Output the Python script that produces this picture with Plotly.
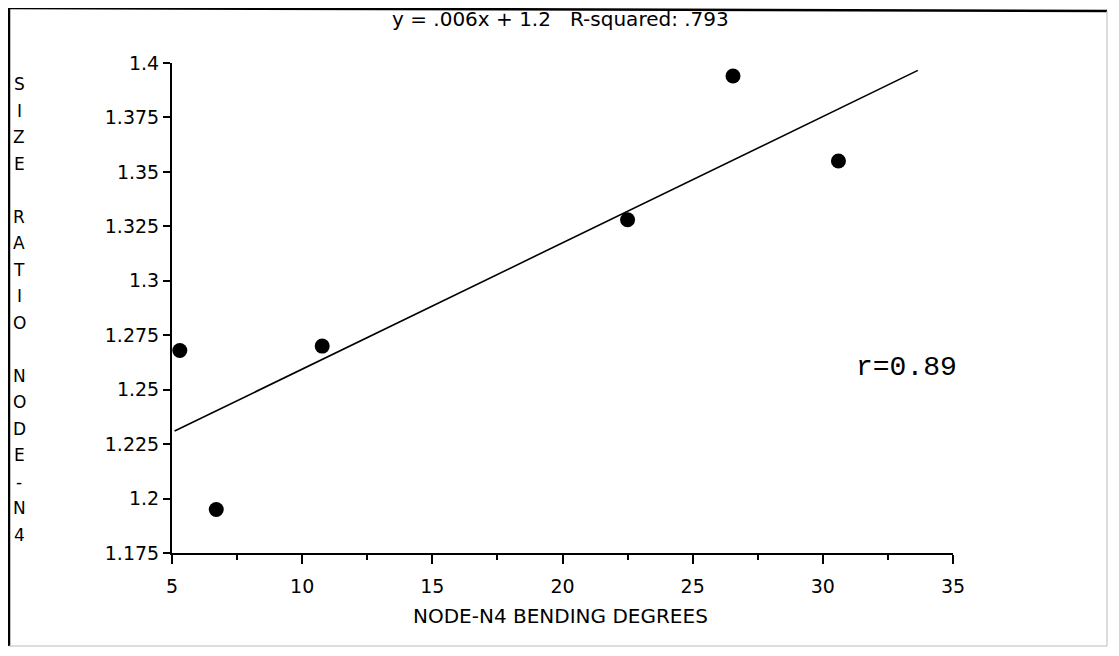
import plotly.graph_objects as go

# ---- data ----
bend_deg = [5.3, 6.7, 10.77, 22.5, 26.55, 30.6]
size_ratio = [1.268, 1.195, 1.270, 1.328, 1.394, 1.355]
fit_x = [5.1, 33.65]
fit_y = [1.231, 1.3966]

x_ticks = [5, 10, 15, 20, 25, 30, 35]
y_ticks = [1.175, 1.2, 1.225, 1.25, 1.275, 1.3, 1.325, 1.35, 1.375, 1.4]
y_tick_labels = ["1.175", "1.2", "1.225", "1.25", "1.275", "1.3", "1.325", "1.35", "1.375", "1.4"]

title_text = "y = .006x + 1.2\u00a0\u00a0\u00a0R-squared: .793"
x_title = "NODE-N4 BENDING DEGREES"
y_title_rows = ["S", "I", "Z", "E", "", "R", "A", "T", "I", "O", "", "N", "O", "D", "E", "-", "N", "4"]
r_text = "r=0.89"

# page body has an 8px margin; compensate so the picture lines up with the window
OFF = 8
W, H = 1119 - OFF, 656 - OFF
PLOT_LEFT, PLOT_RIGHT, PLOT_TOP, PLOT_BOTTOM = 172, 953, 63, 553  # window pixels
L = PLOT_LEFT - OFF
T = PLOT_TOP - OFF
R = W - (PLOT_RIGHT - OFF)
B = H - (PLOT_BOTTOM - OFF)
PW, PH = PLOT_RIGHT - PLOT_LEFT, PLOT_BOTTOM - PLOT_TOP


def px_to_paper_x(px):
    return (px - PLOT_LEFT) / PW


def px_to_paper_y(py):
    return (PLOT_BOTTOM - py) / PH


FONT = "DejaVu Sans"

fig = go.Figure()
fig.add_trace(go.Scatter(x=fit_x, y=fit_y, mode="lines",
                         line=dict(color="black", width=1.6), showlegend=False))
fig.add_trace(go.Scatter(x=bend_deg, y=size_ratio, mode="markers",
                         marker=dict(color="black", size=15), showlegend=False))

annotations = []
# stacked vertical y-axis title
for i, ch in enumerate(y_title_rows):
    if not ch:
        continue
    annotations.append(dict(text=ch, xref="paper", yref="paper",
                            x=px_to_paper_x(19), y=px_to_paper_y(84 + 26.5 * i),
                            xanchor="center", yanchor="middle", showarrow=False,
                            font=dict(family=FONT, size=17, color="black")))
# x-axis title
annotations.append(dict(text=x_title, xref="paper", yref="paper",
                        x=px_to_paper_x(560), y=px_to_paper_y(616),
                        xanchor="center", yanchor="middle", showarrow=False,
                        font=dict(family=FONT, size=20, color="black")))
# r annotation
annotations.append(dict(text=r_text, xref="paper", yref="paper",
                        x=px_to_paper_x(906), y=px_to_paper_y(367),
                        xanchor="center", yanchor="middle", showarrow=False,
                        font=dict(family="Liberation Mono", size=28, color="black")))
# title
annotations.append(dict(text=title_text, xref="paper", yref="paper",
                        x=px_to_paper_x(560), y=px_to_paper_y(19),
                        xanchor="center", yanchor="middle", showarrow=False,
                        font=dict(family=FONT, size=20, color="black")))

shapes = [
    # frame: top, left (dark), right, bottom (light)
    dict(type="line", xref="paper", yref="paper", x0=px_to_paper_x(9), x1=px_to_paper_x(1107),
         y0=px_to_paper_y(8), y1=px_to_paper_y(11), line=dict(color="black", width=2.5)),
    dict(type="line", xref="paper", yref="paper", x0=px_to_paper_x(9), x1=px_to_paper_x(9),
         y0=px_to_paper_y(8), y1=px_to_paper_y(646), line=dict(color="black", width=2.5)),
    dict(type="line", xref="paper", yref="paper", x0=px_to_paper_x(1107), x1=px_to_paper_x(1107),
         y0=px_to_paper_y(11), y1=px_to_paper_y(646), line=dict(color="#bbbbbb", width=1)),
    dict(type="line", xref="paper", yref="paper", x0=px_to_paper_x(9), x1=px_to_paper_x(1107),
         y0=px_to_paper_y(646), y1=px_to_paper_y(646), line=dict(color="#bbbbbb", width=1)),
]

fig.update_layout(
    width=W, height=H,
    margin=dict(l=L, r=R, t=T, b=B, pad=0),
    paper_bgcolor="white", plot_bgcolor="white",
    annotations=annotations, shapes=shapes,
    showlegend=False,
)
fig.update_xaxes(range=[5, 35], tickvals=x_ticks, ticks="outside", ticklen=9, tickwidth=2,
                 tickcolor="black", showline=True, linecolor="black", linewidth=2,
                 showgrid=False, zeroline=False, ticklabelstandoff=6,
                 tickfont=dict(family=FONT, size=19, color="black"),
                 minor=dict(dtick=2.5, tick0=5, ticks="outside", ticklen=5, tickwidth=1.5,
                            tickcolor="black", showgrid=False))
fig.update_yaxes(range=[1.175, 1.4], tickvals=y_ticks, ticktext=y_tick_labels, ticks="outside",
                 ticklen=7, tickwidth=2, tickcolor="black", showline=True, linecolor="black",
                 linewidth=2, showgrid=False, zeroline=False,
                 tickfont=dict(family=FONT, size=19, color="black"))

fig.write_html("out.html")
